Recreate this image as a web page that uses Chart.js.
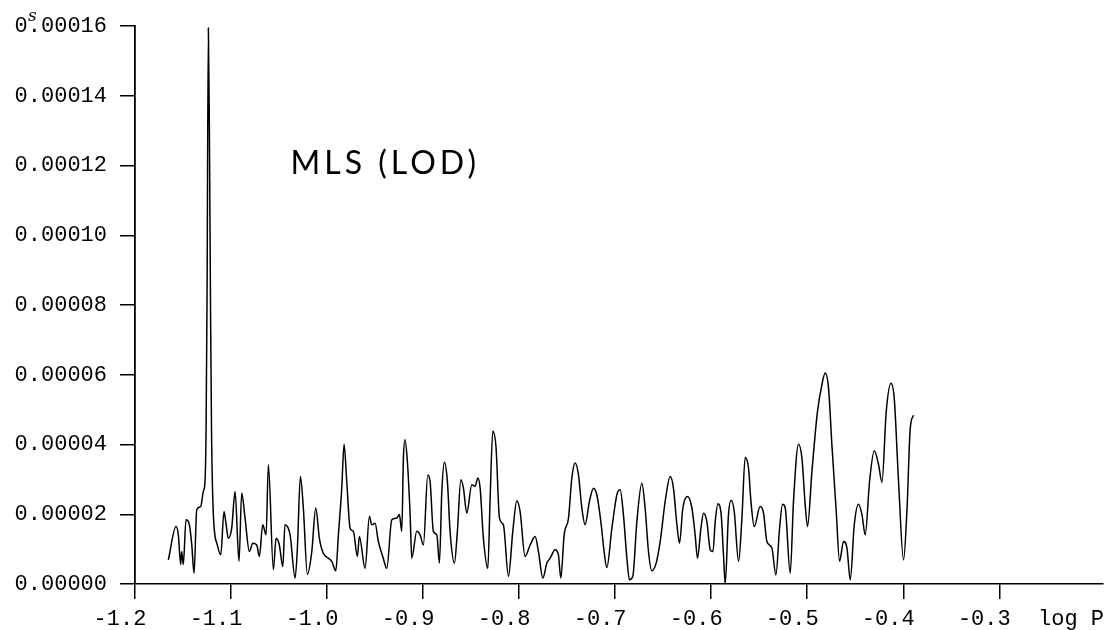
<!DOCTYPE html>
<html>
<head>
<meta charset="utf-8">
<script src="https://cdn.jsdelivr.net/npm/chart.js@4/dist/chart.umd.min.js"></script>
<style>
  html, body { margin: 0; padding: 0; background: #fff; }
</style>
</head>
<body>
<canvas id="mls" width="1107" height="630"></canvas>
<script>
// MLS periodogram of LOD: log period against power (power given in 1e-5 s)
const logP = [
  -1.1653, -1.1573, -1.1549, -1.1524, -1.1514, -1.1497, -1.1469, -1.1434, -1.1409, -1.1385,
  -1.1357, -1.1316, -1.1289, -1.1271, -1.1260, -1.1250, -1.1236, -1.1224, -1.1214, -1.1203,
  -1.1184, -1.1143, -1.1107, -1.1073, -1.1055, -1.1028, -1.0993, -1.0958, -1.0917, -1.0889,
  -1.0854, -1.0809, -1.0774, -1.0732, -1.0705, -1.0670, -1.0635, -1.0611, -1.0559, -1.0531,
  -1.0497, -1.0461, -1.0438, -1.0385, -1.0333, -1.0309, -1.0278, -1.0247, -1.0205, -1.0159,
  -1.0118, -1.0080, -1.0039, -0.9986, -0.9951, -0.9909, -0.9882, -0.9847, -0.9823, -0.9795,
  -0.9760, -0.9726, -0.9684, -0.9664, -0.9604, -0.9559, -0.9535, -0.9500, -0.9466, -0.9420,
  -0.9378, -0.9326, -0.9274, -0.9247, -0.9222, -0.9205, -0.9188, -0.9164, -0.9135, -0.9118,
  -0.9066, -0.9031, -0.8997, -0.8951, -0.8927, -0.8893, -0.8857, -0.8830, -0.8805, -0.8778,
  -0.8747, -0.8719, -0.8674, -0.8643, -0.8607, -0.8580, -0.8545, -0.8493, -0.8458, -0.8430,
  -0.8406, -0.8372, -0.8326, -0.8302, -0.8274, -0.8240, -0.8205, -0.8164, -0.8111, -0.8066,
  -0.8024, -0.7990, -0.7938, -0.7885, -0.7833, -0.7799, -0.7753, -0.7711, -0.7677, -0.7625,
  -0.7591, -0.7566, -0.7531, -0.7486, -0.7451, -0.7417, -0.7382, -0.7347, -0.7313, -0.7268,
  -0.7226, -0.7191, -0.7149, -0.7115, -0.7087, -0.7034, -0.6982, -0.6948, -0.6914, -0.6878,
  -0.6851, -0.6816, -0.6774, -0.6722, -0.6688, -0.6653, -0.6618, -0.6573, -0.6531, -0.6479,
  -0.6427, -0.6393, -0.6357, -0.6330, -0.6295, -0.6247, -0.6201, -0.6167, -0.6143, -0.6107,
  -0.6080, -0.6045, -0.6010, -0.5982, -0.5958, -0.5930, -0.5896, -0.5872, -0.5854, -0.5820,
  -0.5792, -0.5760, -0.5715, -0.5680, -0.5646, -0.5611, -0.5586, -0.5552, -0.5490, -0.5455,
  -0.5420, -0.5368, -0.5326, -0.5288, -0.5257, -0.5229, -0.5177, -0.5143, -0.5091, -0.5055,
  -0.5021, -0.4997, -0.4951, -0.4893, -0.4847, -0.4813, -0.4778, -0.4743, -0.4698, -0.4663,
  -0.4622, -0.4586, -0.4552, -0.4510, -0.4466, -0.4430, -0.4396, -0.4351, -0.4302, -0.4257,
  -0.4222, -0.4177, -0.4128, -0.4094, -0.4049, -0.3997, -0.3962, -0.3927, -0.3893
];

const power = [
  0.69, 1.65, 1.42, 0.56, 0.93, 0.56, 1.84, 1.70, 1.13, 0.31,
  2.13, 2.22, 2.65, 2.94, 4.38, 8.11, 15.95, 12.41, 8.11, 4.38,
  1.99, 1.12, 0.84, 2.08, 1.79, 1.31, 1.60, 2.65, 0.65, 2.61,
  1.89, 0.93, 1.17, 1.12, 0.79, 1.70, 1.41, 3.42, 0.41, 1.31,
  1.12, 0.50, 1.70, 1.41, 0.17, 1.03, 3.08, 2.18, 0.28, 0.93,
  2.18, 1.31, 0.88, 0.74, 0.65, 0.38, 1.41, 2.75, 4.01, 2.94,
  1.60, 1.51, 0.79, 1.36, 0.45, 1.94, 1.70, 1.74, 1.22, 0.79,
  0.45, 1.84, 1.89, 1.99, 1.51, 3.61, 4.14, 3.52, 1.99, 0.74,
  1.51, 1.41, 1.12, 3.13, 2.94, 1.51, 1.41, 0.60, 2.65, 3.49,
  2.94, 1.51, 0.60, 1.51, 2.99, 2.75, 2.03, 2.85, 2.80, 3.04,
  2.75, 1.31, 0.45, 2.46, 4.38, 3.90, 1.89, 1.70, 0.22, 1.51,
  2.39, 2.08, 0.79, 1.12, 1.36, 0.93, 0.17, 0.60, 0.74, 0.98,
  0.84, 0.17, 1.41, 1.89, 3.04, 3.47, 3.13, 2.18, 1.70, 2.37,
  2.75, 2.56, 1.79, 0.93, 0.47, 1.60, 2.56, 2.70, 1.99, 0.74,
  0.12, 0.22, 1.79, 2.89, 2.18, 0.93, 0.38, 0.60, 1.22, 2.37,
  3.08, 2.75, 1.70, 1.17, 2.18, 2.51, 2.18, 1.41, 0.74, 1.60,
  2.03, 1.79, 0.98, 0.93, 1.79, 2.30, 1.99, 0.84, 0.00, 1.99,
  2.40, 2.08, 0.65, 1.89, 3.63, 3.32, 2.37, 1.65, 2.22, 2.03,
  1.22, 1.03, 0.26, 1.60, 2.29, 2.18, 0.31, 2.37, 4.01, 3.61,
  2.27, 1.65, 3.23, 4.95, 5.72, 6.05, 5.62, 3.99, 2.08, 0.65,
  1.22, 1.03, 0.12, 1.70, 2.29, 1.99, 1.41, 2.94, 3.82, 3.42,
  2.92, 4.95, 5.76, 5.33, 2.94, 0.69, 2.08, 4.47, 4.84
];

const xTicks = [-1.2, -1.1, -1.0, -0.9, -0.8, -0.7, -0.6, -0.5, -0.4, -0.3];
const yTicks = [0, 0.00002, 0.00004, 0.00006, 0.00008, 0.00010, 0.00012, 0.00014, 0.00016];

const title = 'MLS (LOD)';
const xTitle = 'log P';
const yUnit = 's';

const INK = '#000';
const MONO = "'Liberation Mono', 'DejaVu Sans Mono', monospace";

const points = logP.map((x, i) => ({ x: x, y: power[i] * 1e-5 }));

// title, axis name and unit mark
const textPlugin = {
  id: 'texts',
  afterDraw(chart) {
    const ctx = chart.ctx;
    const { x, y } = chart.scales;
    ctx.save();
    ctx.fillStyle = INK;
    ctx.textBaseline = 'middle';

    ctx.font = '32px Lato, "Open Sans", sans-serif';
    ctx.letterSpacing = '4px';
    ctx.textAlign = 'left';
    ctx.fillText(title, x.getPixelForValue(-1.038), y.getPixelForValue(0.0001207));

    ctx.letterSpacing = '0px';
    ctx.font = '22px ' + MONO;
    ctx.fillText(xTitle, 1038, 619);

    ctx.font = 'italic 17px "DejaVu Serif", serif';
    ctx.fillText(yUnit, 28, 17);
    ctx.restore();
  }
};

new Chart(document.getElementById('mls'), {
  type: 'line',
  data: {
    datasets: [{
      data: points,
      borderColor: INK,
      borderWidth: 1.5,
      pointRadius: 0,
      cubicInterpolationMode: 'monotone',
      fill: false
    }]
  },
  options: {
    responsive: false,
    animation: false,
    devicePixelRatio: 1,
    layout: { padding: { top: 24, right: 4, left: 0, bottom: 0 } },
    plugins: {
      legend: { display: false },
      tooltip: { enabled: false }
    },
    scales: {
      x: {
        type: 'linear',
        min: -1.2,
        max: -0.192,
        afterBuildTicks: s => { s.ticks = xTicks.map(v => ({ value: v })); },
        afterFit: s => { s.height = 46; },
        grid: { drawOnChartArea: false, drawTicks: true, tickLength: 15, color: INK, lineWidth: 1.5 },
        border: { display: true, color: INK, width: 1.5 },
        ticks: {
          color: INK,
          font: { family: MONO, size: 22 },
          padding: 7,
          labelOffset: -15,
          maxRotation: 0,
          autoSkip: false,
          callback: v => v.toFixed(1)
        }
      },
      y: {
        type: 'linear',
        min: 0,
        max: 0.00016,
        afterBuildTicks: s => { s.ticks = yTicks.map(v => ({ value: v })); },
        afterFit: s => { s.width = 135; },
        grid: { drawOnChartArea: false, drawTicks: true, tickLength: 15, color: INK, lineWidth: 1.5 },
        border: { display: true, color: INK, width: 1.8 },
        ticks: {
          color: INK,
          font: { family: MONO, size: 22 },
          padding: 13,
          autoSkip: false,
          callback: v => v.toFixed(5)
        }
      }
    }
  },
  plugins: [textPlugin]
});
</script>
</body>
</html>
